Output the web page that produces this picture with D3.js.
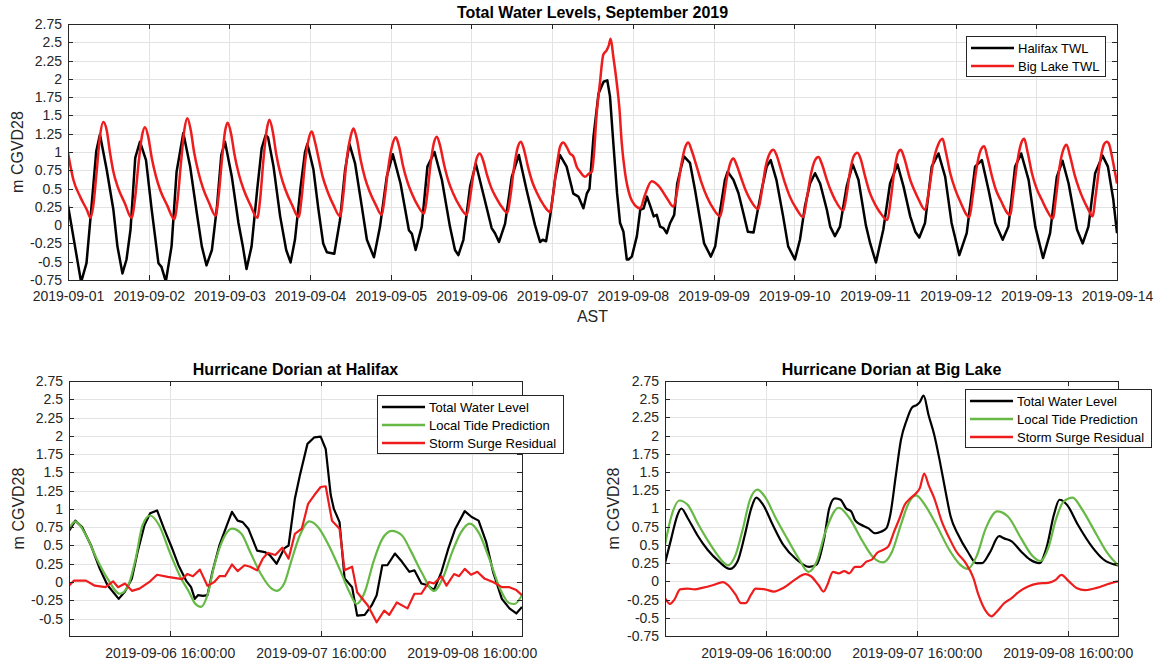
<!DOCTYPE html>
<meta charset="utf-8">
<style>
body { margin: 0; background: #fff; }
svg { font-family: "Liberation Sans", Arial, sans-serif; }
.tick text { font-size: 14px; fill: #262626; }
.grid line { stroke: #e3e3e3; stroke-width: 1px; shape-rendering: crispEdges; }
.grid path { display: none; }
.axis path, .axis line { stroke: #262626; stroke-width: 1px; shape-rendering: crispEdges; }
.title { font-size: 16px; font-weight: bold; fill: #000; }
.label { font-size: 16px; fill: #262626; }
.legend rect { fill: #fff; stroke: #262626; stroke-width: 1px; shape-rendering: crispEdges; }
.legend text { font-size: 13px; fill: #000; }
.line { fill: none; stroke-linejoin: round; }
</style>
<body>
<script src="https://d3js.org/d3.v7.min.js"></script>
<script>
// hours since 2019-09-01 00:00 AST, metres CGVD28
var halifaxTWL = [[0,0.27],[3.9,-0.78],[5.5,-0.52],[7,0.26],[8.4,1.01],[9.5,1.24],[11.5,0.76],[13.5,0.21],[14.7,-0.29],[16.2,-0.66],[17.4,-0.47],[18.6,-0.06],[20,0.92],[21.4,1.14],[23.2,0.89],[24.9,0.21],[26.9,-0.52],[27.8,-0.57],[29.1,-0.77],[30.8,-0.29],[32.3,0.73],[34.3,1.26],[36.3,0.81],[38.3,0.17],[39.8,-0.29],[41.2,-0.55],[42.8,-0.34],[44.3,0.25],[45.6,0.96],[46.7,1.14],[48.7,0.67],[50.7,0.03],[52,-0.29],[53.1,-0.6],[54.6,-0.29],[56.3,0.5],[57.6,1.05],[58.8,1.23],[59.5,1.2],[61.1,0.81],[63.1,0.12],[64.9,-0.34],[66.2,-0.51],[67.5,-0.2],[69.2,0.53],[70.5,1.0],[71.2,1.11],[73,0.76],[74.5,0.21],[75.9,-0.25],[77,-0.37],[79.2,-0.39],[80.9,0.07],[82.4,0.75],[83.7,1.11],[85.4,0.84],[87.4,0.25],[88.9,-0.2],[91,-0.44],[92.8,-0.02],[94.8,0.66],[96.6,0.97],[98.9,0.57],[101.4,-0.07],[102.3,-0.12],[103.4,-0.34],[105.2,-0.02],[106.9,0.8],[109,1.0],[111.2,0.62],[113.6,-0.02],[115.1,-0.34],[116.1,-0.41],[117.6,-0.2],[119.6,0.53],[121.3,0.84],[123.5,0.43],[126,-0.04],[127,-0.11],[128.2,-0.23],[130,0.02],[132,0.66],[134.1,0.96],[136.4,0.48],[138.9,0],[140.4,-0.23],[141.2,-0.2],[142.2,-0.22],[143.4,0.12],[144.9,0.64],[146.3,0.96],[148.3,0.8],[150.3,0.43],[151.8,0.39],[153.3,0.23],[154.3,0.43],[155.1,0.5],[156.3,1.21],[157.8,1.8],[159.3,1.96],[160.4,1.98],[161.2,1.76],[162.2,1.12],[163.3,0.44],[164.2,0.03],[165.2,-0.09],[166.2,-0.47],[166.7,-0.47],[167.7,-0.43],[169.2,-0.15],[170.2,0.21],[171.2,0.23],[172.2,0.39],[173.2,0.26],[174.2,0.12],[175.1,0.14],[176.1,-0.02],[177.1,-0.04],[178.1,-0.11],[179.1,0.03],[180.3,0.14],[181.2,0.57],[182.2,0.76],[183.2,0.94],[185,0.85],[186.5,0.48],[188,0.07],[189.2,-0.25],[191.2,-0.43],[192.5,-0.29],[194,0.21],[195.4,0.62],[196.2,0.73],[197.9,0.62],[199.4,0.44],[200.9,0.16],[202.2,-0.09],[203.9,-0.1],[204.8,0.12],[206.3,0.48],[207.8,0.8],[209,0.89],[210.7,0.62],[212.7,0.12],[214.2,-0.29],[216.2,-0.47],[217.7,-0.2],[219.2,0.26],[220.7,0.57],[222.2,0.71],[223.7,0.57],[225.7,0.21],[226.7,-0.02],[228.1,-0.15],[229.6,-0.02],[231.6,0.53],[233.4,0.83],[235.1,0.62],[237.3,0],[238.6,-0.25],[240.3,-0.51],[242.5,-0.06],[244.5,0.57],[246.7,0.83],[248.5,0.53],[250.5,0.12],[252,-0.09],[253.2,-0.17],[254.9,0.03],[256.9,0.8],[258.9,0.98],[260.9,0.66],[262.8,0.03],[265.1,-0.41],[267.3,-0.11],[269.8,0.8],[271.8,0.89],[273.8,0.48],[275.8,0.03],[278,-0.2],[279.7,-0.02],[281.7,0.8],[283.5,0.98],[285.7,0.62],[287.7,-0.02],[290,-0.45],[292.1,-0.11],[294.1,0.66],[295.8,0.88],[297.6,0.57],[300.1,-0.06],[301.8,-0.25],[303.5,-0.02],[305.5,0.71],[307.7,0.95],[309.3,0.8],[310.9,0.35],[312,-0.11]];

var bigLakeTWL = [[0,0.99],[1.6,0.62],[3.6,0.39],[5.6,0.21],[6.7,0.10],[7.5,0.26],[8.5,0.72],[9.5,1.21],[10.5,1.41],[11.5,1.30],[12.5,0.99],[13.5,0.73],[14.9,0.51],[16.9,0.30],[18.9,0.10],[19.9,0.35],[21,0.85],[22,1.22],[22.9,1.34],[23.9,1.2],[24.9,0.92],[26.2,0.66],[27.5,0.47],[29.5,0.27],[31.6,0.08],[32.6,0.35],[33.6,0.85],[34.6,1.3],[35.5,1.46],[36.5,1.3],[37.5,1.0],[38.8,0.72],[40.2,0.5],[42,0.3],[43.9,0.13],[44.8,0.4],[45.8,0.9],[46.7,1.28],[47.5,1.40],[48.5,1.25],[49.5,0.97],[50.8,0.7],[52.3,0.48],[54.2,0.28],[56.3,0.10],[57.2,0.38],[58.1,0.88],[59.1,1.3],[59.9,1.44],[60.9,1.28],[61.9,0.98],[63.2,0.7],[64.7,0.48],[66.6,0.28],[68.6,0.11],[69.5,0.38],[70.5,0.85],[71.6,1.18],[72.5,1.28],[73.5,1.13],[74.5,0.92],[75.7,0.67],[77.2,0.46],[79,0.27],[80.9,0.12],[81.8,0.38],[82.8,0.86],[84,1.2],[84.9,1.32],[85.9,1.18],[87,0.9],[88.3,0.65],[89.7,0.46],[91.5,0.28],[93.3,0.14],[94.2,0.38],[95.3,0.8],[96.5,1.1],[97.5,1.2],[98.5,1.07],[99.6,0.82],[100.9,0.6],[102.3,0.43],[104,0.27],[105.9,0.16],[106.8,0.4],[107.8,0.82],[108.8,1.12],[109.7,1.21],[110.7,1.08],[111.8,0.84],[113.1,0.61],[114.6,0.43],[116.5,0.26],[118.6,0.14],[119.5,0.35],[120.6,0.7],[121.6,0.92],[122.5,0.98],[123.5,0.88],[124.6,0.69],[125.9,0.51],[127.3,0.38],[129,0.25],[130.7,0.17],[131.6,0.4],[132.7,0.8],[133.8,1.07],[134.7,1.14],[135.7,1.02],[136.8,0.8],[138.1,0.59],[139.6,0.43],[141.4,0.28],[143.4,0.18],[144.3,0.42],[145.4,0.82],[146.4,1.08],[147.3,1.13],[148.3,1.07],[149.3,0.98],[150.3,0.94],[151.3,0.80],[152.3,0.73],[153.8,0.66],[154.8,0.70],[155.8,0.73],[156.4,0.95],[157.2,1.50],[158.2,1.94],[159.2,2.33],[160.2,2.39],[160.8,2.45],[161.4,2.55],[162.2,2.3],[163.2,1.95],[164,1.6],[164.7,1.12],[165.7,0.71],[167.2,0.39],[168.5,0.28],[170.2,0.23],[171.5,0.4],[173.6,0.6],[175.6,0.54],[178.1,0.37],[180.1,0.25],[181.3,0.5],[182.5,0.85],[183.6,1.07],[184.5,1.13],[185.5,1.02],[187,0.8],[188.5,0.57],[190,0.39],[192,0.22],[194,0.12],[195,0.35],[196,0.65],[197,0.85],[197.9,0.91],[198.9,0.82],[200.4,0.62],[201.6,0.47],[202.9,0.35],[205.3,0.22],[206.3,0.45],[207.5,0.8],[208.7,0.98],[209.8,1.03],[210.8,0.95],[211.8,0.8],[213.2,0.58],[214.7,0.39],[216.7,0.22],[218.7,0.11],[219.7,0.35],[220.9,0.68],[222.1,0.88],[223.2,0.93],[224.2,0.84],[225.7,0.62],[226.9,0.47],[228.1,0.35],[230.6,0.2],[231.6,0.42],[232.7,0.76],[233.8,0.95],[234.8,0.99],[235.8,0.9],[237,0.68],[238.5,0.44],[240.2,0.27],[241.9,0.15],[243.7,0.07],[244.7,0.35],[245.8,0.75],[246.8,0.98],[247.7,1.03],[248.7,0.92],[250.5,0.62],[251.8,0.47],[253,0.35],[254.9,0.21],[256,0.45],[257.3,0.85],[258.8,1.1],[260.1,1.18],[261.1,1.0],[262.4,0.71],[263.8,0.5],[265.4,0.32],[268.1,0.11],[269.1,0.4],[270.3,0.8],[271.5,1.03],[272.5,1.08],[273.5,0.92],[274.8,0.67],[276,0.48],[277.3,0.35],[280.2,0.14],[281.2,0.45],[282.4,0.88],[283.5,1.12],[284.4,1.18],[285.4,1.0],[286.7,0.71],[288.1,0.5],[289.6,0.35],[291.2,0.2],[292.9,0.09],[293.9,0.4],[295,0.82],[296.1,1.04],[297,1.1],[298,0.95],[299.5,0.67],[300.7,0.5],[302,0.35],[303.4,0.22],[304.7,0.12],[305.7,0.42],[306.9,0.85],[308.1,1.1],[309,1.14],[309.7,1.1],[310.5,0.94],[312,0.57]];

// hours since 2019-09-06 00:00 AST
var hfxTotal = [[0,0.70],[1,0.84],[2.1,0.75],[3.5,0.5],[4.9,0.18],[6.1,-0.04],[7.9,-0.23],[8.9,-0.13],[10,0.05],[10.9,0.41],[12,0.78],[12.9,0.94],[14,0.98],[15.1,0.73],[16.3,0.48],[17.4,0.23],[18.6,0.02],[19.4,-0.07],[20,-0.23],[20.5,-0.18],[21.3,-0.19],[22,-0.18],[22.8,0.14],[23.9,0.5],[25.1,0.78],[25.9,0.96],[26.8,0.84],[27.6,0.82],[28.5,0.73],[29.9,0.43],[31.1,0.41],[31.9,0.37],[33,0.25],[34.2,0.46],[34.9,0.5],[35.9,1.14],[36.7,1.46],[37.9,1.89],[39,1.98],[40,1.99],[40.8,1.82],[41.6,1.19],[42.1,1.0],[43,0.82],[43.8,0.05],[45,-0.07],[45.8,-0.46],[47,-0.45],[48.1,-0.32],[48.9,-0.18],[49.8,0.23],[50.6,0.23],[51.8,0.39],[52.9,0.28],[54.1,0.14],[54.9,0.16],[56,-0.02],[56.9,-0.04],[58,-0.11],[59.2,0.14],[60.3,0.46],[61.4,0.73],[62.9,0.97],[64,0.89],[65.1,0.84],[66.3,0.55],[67.4,0.14],[68.8,-0.23],[70,-0.36],[71.1,-0.43],[72,-0.34]];
var hfxTide = [[0,0.73],[1,0.83],[2.7,0.64],[4.4,0.32],[6.1,0.05],[8.1,-0.16],[9.4,-0.05],[10.6,0.32],[11.7,0.78],[12.9,0.91],[14.3,0.78],[16,0.41],[17.7,0.07],[19.1,-0.14],[20,-0.29],[21,-0.34],[22,-0.18],[23.1,0.23],[24.5,0.59],[25.9,0.73],[27.4,0.66],[28.8,0.41],[30.5,0.11],[32.2,-0.09],[33,-0.12],[34.2,-0.02],[35.3,0.28],[36.7,0.64],[38.2,0.83],[39.6,0.75],[41.3,0.5],[43,0.18],[44.7,-0.16],[45.7,-0.3],[47,-0.14],[48.4,0.28],[49.8,0.59],[51.3,0.7],[52.9,0.64],[54.3,0.43],[56,0.14],[58,-0.12],[59.4,0.05],[60.9,0.41],[62.3,0.68],[63.7,0.8],[65.1,0.68],[66.8,0.32],[68.5,-0.09],[70,-0.29],[70.8,-0.3],[72,-0.18]];
var hfxSurge = [[0,-0.05],[0.8,0.02],[2.7,0.02],[4.1,-0.05],[5.8,-0.07],[7,0.01],[7.8,-0.07],[8.9,-0.02],[10,-0.12],[11.2,-0.09],[12.9,0.01],[14,0.1],[15.7,0.07],[18,0.04],[18.8,0.11],[19.7,0.08],[20.8,0.17],[22,-0.05],[23.1,0],[23.9,0.08],[24.8,0.08],[25.9,0.24],[26.8,0.15],[27.9,0.23],[28.8,0.21],[29.9,0.16],[30.8,0.32],[31.6,0.4],[32.8,0.37],[33.9,0.47],[34.9,0.32],[35.9,0.66],[37,0.73],[38,1.07],[39,1.19],[40,1.3],[40.8,1.31],[41.8,0.84],[43,0.73],[43.8,0.16],[45,0.21],[45.8,-0.14],[47.5,-0.32],[48.9,-0.55],[50.1,-0.39],[50.9,-0.45],[52.1,-0.28],[53.8,-0.36],[54.9,-0.16],[56,-0.16],[57.2,0],[58,-0.02],[59.2,0.08],[60,-0.05],[61.2,0.11],[62,0.08],[62.9,0.18],[63.9,0.1],[64.9,0.14],[66,0.05],[67.4,0],[68.8,-0.07],[70,-0.07],[71.1,-0.11],[72,-0.18]];

var blkTotal = [[0,0.25],[1,0.59],[1.9,0.89],[2.6,1.0],[3.6,0.87],[5.1,0.64],[6.8,0.43],[8.6,0.27],[10.3,0.17],[11.5,0.27],[12.7,0.64],[13.7,1.0],[14.5,1.15],[15.6,1.05],[17.1,0.78],[18.8,0.5],[20.9,0.3],[22.9,0.2],[24.1,0.23],[25.3,0.59],[26.1,1.0],[27,1.14],[27.9,1.12],[28.8,1.0],[29.6,0.96],[30.2,0.84],[31.1,0.78],[32.3,0.73],[33.4,0.66],[34.3,0.68],[35.2,0.73],[35.8,0.91],[36.7,1.46],[37.5,1.94],[38.4,2.21],[39.3,2.39],[40,2.42],[40.5,2.46],[41.1,2.55],[41.9,2.28],[42.8,2.01],[43.7,1.64],[44.6,1.23],[45.4,0.89],[46.6,0.64],[48.1,0.41],[49.5,0.25],[50.4,0.25],[51.6,0.39],[53.1,0.62],[53.9,0.59],[55.1,0.55],[56.6,0.41],[58,0.3],[59.5,0.25],[60.7,0.48],[61.8,0.91],[62.7,1.12],[63.9,1.05],[65.6,0.78],[68,0.46],[69.7,0.3],[72,0.22]];
var blkTide = [[0,0.5],[1,0.89],[2.3,1.11],[3.6,1.05],[5.3,0.78],[7.4,0.48],[9.2,0.27],[10,0.22],[11.2,0.36],[12.4,0.73],[13.5,1.12],[14.7,1.26],[15.9,1.16],[17.6,0.87],[19.4,0.59],[21.2,0.32],[22.8,0.13],[24.1,0.27],[25.5,0.68],[27.6,1.01],[29.3,0.87],[31.4,0.55],[33.2,0.32],[34.6,0.26],[36.1,0.41],[37.5,0.78],[38.7,1.07],[39.9,1.18],[41.3,1.05],[43.1,0.78],[45.2,0.43],[46.9,0.23],[48.1,0.17],[49.5,0.34],[51,0.73],[52.8,0.96],[54.5,0.89],[56.6,0.59],[58.3,0.36],[59.7,0.28],[61,0.48],[62.1,0.84],[63.3,1.09],[64.8,1.15],[66.2,1.0],[68.6,0.64],[70.3,0.39],[72,0.22]];
var blkSurge = [[0,-0.23],[0.8,-0.31],[1.5,-0.25],[2.4,-0.11],[3.6,-0.1],[4.7,-0.11],[5.9,-0.09],[7.7,-0.05],[9.2,-0.01],[10,-0.05],[11.2,-0.18],[12.1,-0.3],[12.8,-0.3],[13.7,-0.18],[14.4,-0.1],[15.9,-0.11],[17.3,-0.14],[18.8,-0.09],[20.6,0.02],[22.3,0.1],[23.2,0.07],[24.4,-0.05],[25.2,-0.14],[25.8,-0.05],[26.7,0.13],[27.6,0.11],[28.5,0.14],[29.3,0.11],[30.2,0.2],[31.1,0.2],[32,0.27],[32.9,0.3],[33.7,0.39],[34.6,0.43],[35.5,0.48],[36.4,0.68],[37.3,0.87],[38.1,1.05],[39,1.14],[39.9,1.21],[40.5,1.28],[41.2,1.48],[41.9,1.32],[42.8,1.14],[44,0.82],[45.2,0.59],[46.3,0.41],[47.8,0.25],[49,0.05],[49.8,-0.18],[51,-0.41],[51.9,-0.48],[52.8,-0.41],[53.9,-0.3],[55.1,-0.23],[56.3,-0.14],[57.7,-0.07],[59.2,-0.03],[60.9,-0.02],[62.1,0.02],[63,0.09],[64.2,0],[65.4,-0.09],[66.8,-0.12],[68.6,-0.09],[70.3,-0.04],[72,0]];

var topXTicks = ["2019-09-01","2019-09-02","2019-09-03","2019-09-04","2019-09-05","2019-09-06","2019-09-07","2019-09-08","2019-09-09","2019-09-10","2019-09-11","2019-09-12","2019-09-13","2019-09-14"];
var bottomXTicks = ["2019-09-06 16:00:00","2019-09-07 16:00:00","2019-09-08 16:00:00"];
var topYTicks = [-0.75,-0.5,-0.25,0,0.25,0.5,0.75,1,1.25,1.5,1.75,2,2.25,2.5,2.75];
var hfxYTicks = [-0.5,-0.25,0,0.25,0.5,0.75,1,1.25,1.5,1.75,2,2.25,2.5,2.75];
var blkYTicks = topYTicks;

var colBlack = "#000000", colRed = "#ee1c1c", colGreen = "#66b944";

var parseDay = d3.timeParse("%Y-%m-%d"),
    parseFull = d3.timeParse("%Y-%m-%d %H:%M:%S");
var startTop = new Date(2019, 8, 1), startBottom = new Date(2019, 8, 6);

function asDates(series, t0) {
  return series.map(function(d) { return {t: new Date(+t0 + d[0] * 3600e3), v: d[1]}; });
}

var svg = d3.select("body").append("svg")
    .attr("width", 1159)
    .attr("height", 662);

var clipId = 0;

function panel(o) {
  var g = svg.append("g");
  var x = d3.scaleTime().domain(o.xDomain).range([o.left, o.right]);
  var y = d3.scaleLinear().domain(o.yDomain).range([o.bottom, o.top]);
  var w = o.right - o.left, h = o.bottom - o.top;

  // grid
  g.append("g").attr("class", "grid")
      .attr("transform", "translate(0," + o.bottom + ")")
      .call(d3.axisBottom(x).tickValues(o.xTicks).tickSize(-h).tickFormat(""));
  g.append("g").attr("class", "grid")
      .attr("transform", "translate(" + o.left + ",0)")
      .call(d3.axisLeft(y).tickValues(o.yTicks).tickSize(-w).tickFormat(""));

  // data
  var id = "clip" + (clipId++);
  g.append("clipPath").attr("id", id).append("rect")
      .attr("x", o.left).attr("y", o.top).attr("width", w).attr("height", h);
  var plot = g.append("g").attr("clip-path", "url(#" + id + ")");
  o.series.forEach(function(s) {
    var line = d3.line()
        .x(function(d) { return x(d.t); })
        .y(function(d) { return y(d.v); })
        .curve(s.curve || d3.curveLinear);
    plot.append("path")
        .datum(asDates(s.data, o.t0))
        .attr("class", "line")
        .attr("stroke", s.color)
        .attr("stroke-width", o.lineWidth)
        .attr("d", line);
  });

  // axes, ticks pointing inwards on all four sides
  g.append("g").attr("class", "axis")
      .attr("transform", "translate(0," + o.bottom + ")")
      .call(d3.axisBottom(x).tickValues(o.xTicks).tickSizeInner(-5).tickSizeOuter(0)
            .tickPadding(o.xPad).tickFormat(o.xFormat));
  g.append("g").attr("class", "axis")
      .attr("transform", "translate(0," + o.top + ")")
      .call(d3.axisTop(x).tickValues(o.xTicks).tickSizeInner(-5).tickSizeOuter(0).tickFormat(""));
  g.append("g").attr("class", "axis")
      .attr("transform", "translate(" + o.left + ",0)")
      .call(d3.axisLeft(y).tickValues(o.yTicks).tickSizeInner(-5).tickSizeOuter(0)
            .tickPadding(6).tickFormat(function(d) { return String(d); }));
  g.append("g").attr("class", "axis")
      .attr("transform", "translate(" + o.right + ",0)")
      .call(d3.axisRight(y).tickValues(o.yTicks).tickSizeInner(-5).tickSizeOuter(0).tickFormat(""));

  g.append("text").attr("class", "title")
      .attr("x", (o.left + o.right) / 2).attr("y", o.top - 6)
      .attr("text-anchor", "middle").text(o.title);
  g.append("text").attr("class", "label")
      .attr("transform", "translate(" + o.yLabelX + "," + (o.top + o.bottom) / 2 + ") rotate(-90)")
      .attr("text-anchor", "middle").text("m CGVD28");
  if (o.xLabel) {
    g.append("text").attr("class", "label")
        .attr("x", (o.left + o.right) / 2).attr("y", o.bottom + 42)
        .attr("text-anchor", "middle").text(o.xLabel);
  }

  // legend
  var lg = g.append("g").attr("class", "legend")
      .attr("transform", "translate(" + o.legend.x + "," + o.legend.y + ")");
  lg.append("rect").attr("width", o.legend.w).attr("height", 18 * o.series.length + 4);
  o.series.forEach(function(s, i) {
    var ry = 12 + i * 18;
    lg.append("line").attr("x1", 5).attr("x2", 48).attr("y1", ry).attr("y2", ry)
        .attr("stroke", s.color).attr("stroke-width", 2.5);
    lg.append("text").attr("x", 52).attr("y", ry).attr("dy", "0.35em").text(s.name);
  });
}

panel({
  left: 68, right: 1117, top: 24, bottom: 280,
  t0: startTop,
  xDomain: [parseDay("2019-09-01"), parseDay("2019-09-14")],
  yDomain: [-0.75, 2.75],
  xTicks: topXTicks.map(parseDay),
  yTicks: topYTicks,
  xFormat: d3.timeFormat("%Y-%m-%d"),
  xPad: 11,
  lineWidth: 2.5,
  title: "Total Water Levels, September 2019",
  xLabel: "AST",
  yLabelX: 23,
  legend: {x: 966, y: 36, w: 139},
  series: [
    {name: "Halifax TWL", color: colBlack, data: halifaxTWL},
    {name: "Big Lake TWL", color: colRed, data: bigLakeTWL, curve: d3.curveMonotoneX}
  ]
});

panel({
  left: 69, right: 522, top: 381, bottom: 636,
  t0: startBottom,
  xDomain: [parseDay("2019-09-06"), parseDay("2019-09-09")],
  yDomain: [-0.738, 2.75],
  xTicks: bottomXTicks.map(parseFull),
  yTicks: hfxYTicks,
  xFormat: d3.timeFormat("%Y-%m-%d %H:%M:%S"),
  xPad: 12,
  lineWidth: 2.2,
  title: "Hurricane Dorian at Halifax",
  yLabelX: 24,
  legend: {x: 377, y: 395, w: 186},
  series: [
    {name: "Total Water Level", color: colBlack, data: hfxTotal},
    {name: "Local Tide Prediction", color: colGreen, data: hfxTide, curve: d3.curveMonotoneX},
    {name: "Storm Surge Residual", color: colRed, data: hfxSurge}
  ]
});

panel({
  left: 665, right: 1118, top: 381, bottom: 636,
  t0: startBottom,
  xDomain: [parseDay("2019-09-06"), parseDay("2019-09-09")],
  yDomain: [-0.75, 2.75],
  xTicks: bottomXTicks.map(parseFull),
  yTicks: blkYTicks,
  xFormat: d3.timeFormat("%Y-%m-%d %H:%M:%S"),
  xPad: 12,
  lineWidth: 2.2,
  title: "Hurricane Dorian at Big Lake",
  yLabelX: 619,
  legend: {x: 965, y: 389, w: 186},
  series: [
    {name: "Total Water Level", color: colBlack, data: blkTotal, curve: d3.curveMonotoneX},
    {name: "Local Tide Prediction", color: colGreen, data: blkTide, curve: d3.curveMonotoneX},
    {name: "Storm Surge Residual", color: colRed, data: blkSurge, curve: d3.curveMonotoneX}
  ]
});
</script>
</body>
